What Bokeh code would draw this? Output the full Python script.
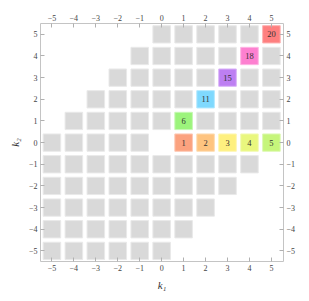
from bokeh.plotting import figure
from bokeh.models import LinearAxis, FixedTicker, Range1d, ColumnDataSource
from bokeh.core.properties import value
from bokeh.embed import file_html
from bokeh.resources import INLINE

# grid rows: for each k2, the k1 span of cells
row_k2 = [5, 4, 3, 2, 1, 0, -1, -2, -3, -4, -5]
row_k1_start = [0, -1, -2, -3, -4, -5, -5, -5, -5, -5, -5]
row_k1_end = [5, 5, 5, 5, 5, 5, 4, 3, 2, 1, 0]
empty_cells = [(0, 0)]

# highlighted cells
hl_k1 = [1, 2, 3, 4, 5, 1, 2, 3, 4, 5]
hl_k2 = [0, 0, 0, 0, 0, 1, 2, 3, 4, 5]
hl_values = [1, 2, 3, 4, 5, 6, 11, 15, 18, 20]
hl_colors = ["#fba27f", "#fec480", "#fef07f", "#e9f77e", "#c6f57b",
             "#9cf47c", "#7fd9fe", "#bd7ff2", "#fd80d0", "#fe7f7f"]
hl_borders = ["#fdc8b3", "#fedcb3", "#fef6b3", "#f2fab3", "#ddf9b3",
              "#c6f8b3", "#b3e8fe", "#d9b3f7", "#feb3e3", "#feb3b3"]

ticks = [-5, -4, -3, -2, -1, 0, 1, 2, 3, 4, 5]

hl_set = set(zip(hl_k1, hl_k2))
gx, gy = [], []
for k2, a, b in zip(row_k2, row_k1_start, row_k1_end):
    for k1 in range(a, b + 1):
        if (k1, k2) in hl_set or (k1, k2) in empty_cells:
            continue
        gx.append(k1)
        gy.append(k2)

p = figure(width=301, height=293, output_backend="svg", toolbar_location=None,
           x_range=Range1d(-5.52, 5.55), y_range=Range1d(-5.49, 5.5),
           x_axis_location=None, y_axis_location=None,
           min_border_left=40, min_border_right=18, min_border_top=23,
           min_border_bottom=27, outline_line_color=None)
p.xgrid.visible = False
p.ygrid.visible = False
p.background_fill_color = "white"

p.rect(x=gx, y=gy, width=0.8, height=0.8, fill_color="#d9d9d9",
       line_color="#e9e9e9", line_width=1)

src = ColumnDataSource(dict(x=hl_k1, y=hl_k2, v=[str(v) for v in hl_values],
                            c=hl_colors, b=hl_borders))
p.rect(x="x", y="y", width=0.8, height=0.8, fill_color="c", line_color="b",
       line_width=1, source=src)
p.text(x="x", y="y", text="v", source=src, text_font=value("Liberation Serif"),
       text_font_size="8.5px", text_align="center", text_baseline="middle",
       text_color="#333333")

overrides = {t: (("\u2212" + str(-t)) if t < 0 else str(t)) for t in ticks}


def style(ax, label=None):
    ax.ticker = FixedTicker(ticks=ticks)
    ax.major_label_overrides = overrides
    ax.major_tick_in = 4
    ax.major_tick_out = 0
    ax.minor_tick_line_color = None
    ax.axis_line_color = "#c4c4c4"
    ax.major_tick_line_color = "#b0b0b0"
    ax.major_label_text_font = "Liberation Serif"
    ax.major_label_text_font_size = "8px"
    ax.major_label_text_color = "#444444"
    ax.major_label_standoff = 3
    if label:
        ax.axis_label = label
        ax.axis_label_text_font = "Liberation Serif"
        ax.axis_label_text_font_style = "italic"
        ax.axis_label_text_font_size = "11px"
        ax.axis_label_text_color = "#333333"
        ax.axis_label_standoff = 5


bx = LinearAxis(); style(bx, "k\u2081"); p.add_layout(bx, "below")
tx = LinearAxis(); style(tx); p.add_layout(tx, "above")
ly = LinearAxis(); style(ly, "k\u2082"); p.add_layout(ly, "left")
ry = LinearAxis(); style(ry); p.add_layout(ry, "right")

open("out.html", "w").write(file_html(p, INLINE))
